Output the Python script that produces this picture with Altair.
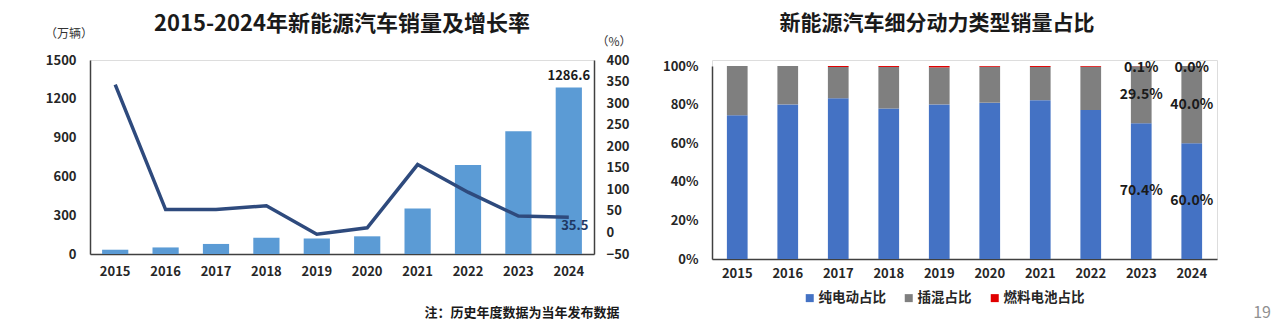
import altair as alt
import pandas as pd

FONT = "Noto Sans CJK SC"

# ---------------- data ----------------
years = ["2015", "2016", "2017", "2018", "2019", "2020", "2021", "2022", "2023", "2024"]
sales = [33.1, 50.7, 77.7, 125.6, 120.6, 136.7, 352.1, 688.7, 949.5, 1286.6]
growth = [343.0, 53.0, 53.3, 61.7, -4.0, 10.9, 157.5, 93.4, 37.9, 35.5]

bev_share = [74.5, 80.1, 83.3, 78.0, 80.1, 81.0, 82.3, 77.2, 70.4, 60.0]
fc_share = [0.0, 0.0, 0.5, 0.5, 0.7, 0.4, 0.5, 0.4, 0.1, 0.0]
phev_share = [25.5, 19.9, 16.2, 21.5, 19.2, 18.6, 17.2, 22.4, 29.5, 40.0]

types = ["纯电动占比", "插混占比", "燃料电池占比"]
type_colors = ["#4472C4", "#7F7F7F", "#E00000"]

label_years = ["2023", "2023", "2023", "2024", "2024", "2024"]
label_types = ["纯电动占比", "插混占比", "燃料电池占比", "纯电动占比", "插混占比", "燃料电池占比"]
label_texts = ["70.4%", "29.5%", "0.1%", "60.0%", "40.0%", "0.0%"]

left_ticks = [0, 300, 600, 900, 1200, 1500]
right_ticks = [-50, 0, 50, 100, 150, 200, 250, 300, 350, 400]
pct_ticks = [0, 20, 40, 60, 80, 100]

left_title = "2015-2024年新能源汽车销量及增长率"
right_title = "新能源汽车细分动力类型销量占比"
note_text = "注：历史年度数据为当年发布数据"

# ---------------- left chart ----------------
left_df = pd.DataFrame({"year": years, "sales": sales, "growth": growth})

axis_common = dict(title=None, grid=False, ticks=False, labelFontSize=13,
                   labelFontWeight="bold", labelColor="#262626", labelOverlap=False,
                   domainColor="#404040", domainWidth=1.5)

xL = alt.X("year:N", sort=years,
           scale=alt.Scale(paddingInner=0.48, paddingOuter=0.24),
           axis=alt.Axis(labelAngle=0, labelPadding=11, **axis_common))
ySales = alt.Y("sales:Q", scale=alt.Scale(domain=[0, 1500]),
               axis=alt.Axis(values=left_ticks, format="d", labelPadding=14, **axis_common))
yGrowth = alt.Y("growth:Q", scale=alt.Scale(domain=[-50, 400]),
                axis=alt.Axis(orient="right", values=right_ticks, format="d",
                              labelPadding=12, **axis_common))

bars = alt.Chart(left_df).mark_bar(color="#5B9BD5").encode(x=xL, y=ySales)
bar_lab = alt.Chart(left_df).transform_filter(alt.datum.year == "2024").mark_text(
    dy=-12, fontSize=13, fontWeight="bold", color="#1a1a1a"
).encode(x=xL, y=ySales, text=alt.Text("sales:Q", format=".1f"))

line = alt.Chart(left_df).mark_line(color="#2E4A7D", strokeWidth=3.5).encode(x=xL, y=yGrowth)
line_lab = alt.Chart(left_df).transform_filter(alt.datum.year == "2024").mark_text(
    dx=6, dy=9, fontSize=13, fontWeight="bold", color="#1F3864"
).encode(x=xL, y=yGrowth, text=alt.Text("growth:Q", format=".1f"))


def note(text, x, y, size, weight="bold", color="#1a1a1a", align="center"):
    return alt.Chart(pd.DataFrame({"t": [text]})).mark_text(
        fontSize=size, fontWeight=weight, color=color, align=align, baseline="middle"
    ).encode(text="t:N", x=alt.value(x), y=alt.value(y))


left = alt.layer(
    alt.layer(bars, bar_lab),
    alt.layer(line, line_lab),
    note(left_title, 252, -36, 22),
    note("（万辆）", -21, -26, 12, weight="normal", color="#333333"),
    note("（%）", 524, -18, 12, weight="normal", color="#333333"),
    note(note_text, 432, 253, 13),
).resolve_scale(y="independent").properties(width=504, height=194)

# ---------------- right chart ----------------
rows = []
for i, y in enumerate(years):
    rows.append({"year": y, "type": types[0], "share": bev_share[i], "ord": 0})
    rows.append({"year": y, "type": types[1], "share": phev_share[i], "ord": 1})
    rows.append({"year": y, "type": types[2], "share": fc_share[i], "ord": 2})
right_df = pd.DataFrame(rows)

lab_rows = []
for yr, tp, tx in zip(label_years, label_types, label_texts):
    i = years.index(yr)
    if tp == types[0]:
        pos = bev_share[i] / 2
    elif tp == types[1]:
        pos = bev_share[i] + phev_share[i] / 2
    else:
        pos = 99.0
    lab_rows.append({"year": yr, "share": pos, "txt": tx})
lab_df = pd.DataFrame(lab_rows)

xR = alt.X("year:N", sort=years,
           scale=alt.Scale(paddingInner=0.59, paddingOuter=0.295),
           axis=alt.Axis(labelAngle=0, labelPadding=8, **axis_common))
yShare_axis = alt.Axis(values=pct_ticks, labelExpr="datum.value + '%'",
                       labelPadding=14, **axis_common)
yscale_r = alt.Scale(domain=[0, 100], range=[199, 6])

bars_r = alt.Chart(right_df).mark_bar().encode(
    x=xR,
    y=alt.Y("share:Q", stack="zero", scale=yscale_r, axis=yShare_axis),
    color=alt.Color("type:N", scale=alt.Scale(domain=types, range=type_colors),
                    legend=alt.Legend(title=None, orient="none", legendX=713, legendY=231,
                                      direction="horizontal", symbolType="square",
                                      symbolSize=64, symbolStrokeWidth=0,
                                      labelFontSize=13.5, labelFontWeight="bold",
                                      labelColor="#262626", labelFont=FONT,
                                      columnPadding=16, labelOffset=2)),
    order=alt.Order("ord:Q"),
)
labs_r = alt.Chart(lab_df).mark_text(fontSize=14, fontWeight="bold", color="#1a1a1a").encode(
    x=xR, y=alt.Y("share:Q", stack=None, scale=yscale_r, axis=yShare_axis), text="txt:N"
)

right = alt.layer(
    bars_r, labs_r,
    note(right_title, 225, -36, 21),
    note("19", 550, 253, 16, weight="normal", color="#909090"),
).properties(width=505, height=199)

chart = alt.hconcat(left, right, spacing=28).properties(
    padding={"left": 44, "top": 12, "right": 0, "bottom": 0}
).configure_view(stroke=None).configure(font=FONT).configure_text(font=FONT)

chart.save("out.html", embed_options={"renderer": "svg", "actions": False})
